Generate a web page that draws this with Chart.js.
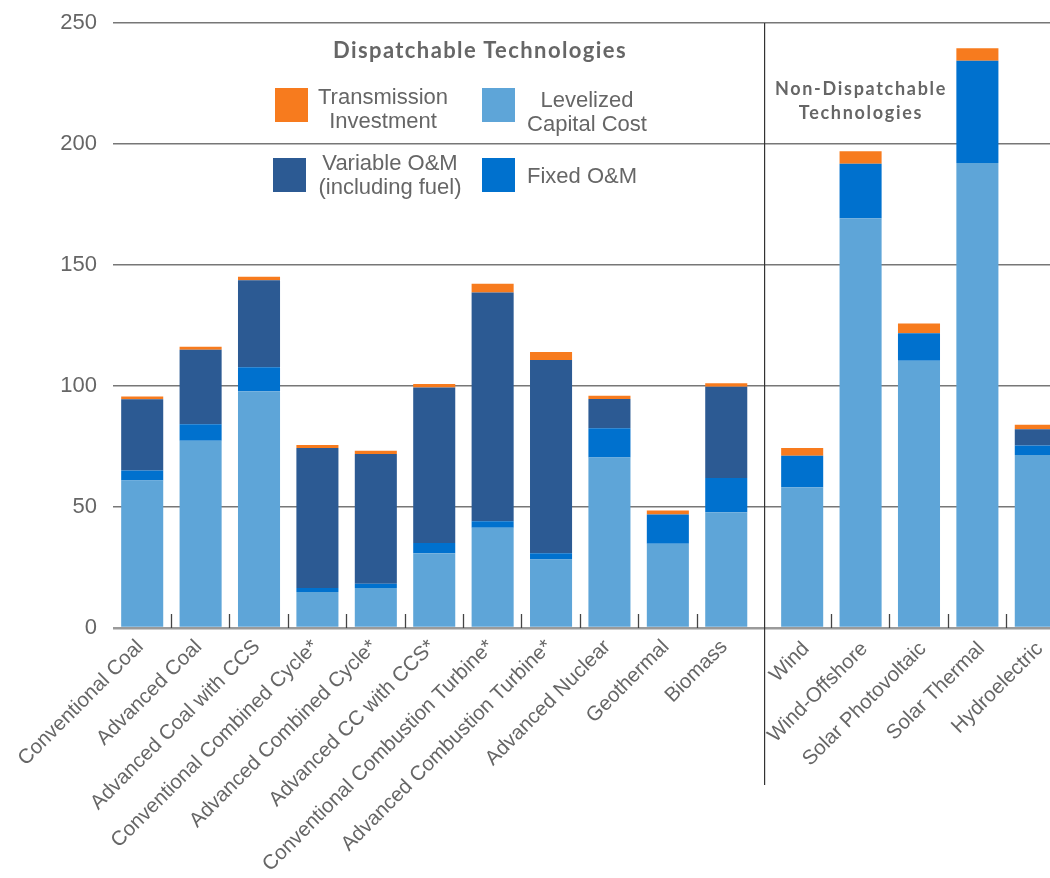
<!DOCTYPE html>
<html>
<head>
<meta charset="utf-8">
<script src="https://cdn.jsdelivr.net/npm/chart.js@4.4.1/dist/chart.umd.min.js"></script>
<style>
html, body { margin: 0; padding: 0; background: #fff; width: 1050px; height: 878px; overflow: hidden; }
#wrap { position: relative; width: 1070px; height: 878px; }
#c { position: absolute; left: 0; top: 0; }
.lbl { position: absolute; font-family: "Liberation Sans", Arial, sans-serif; color: #666; font-size: 22px; line-height: 24px; text-align: center; white-space: nowrap; }
.ttl { position: absolute; font-family: Lato, "Open Sans", sans-serif; font-weight: 700; color: #666; text-align: center; white-space: nowrap; }
.sw { position: absolute; width: 33px; height: 34px; }
</style>
</head>
<body>
<div id="wrap">
  <canvas id="c" width="1070" height="878"></canvas>
  <div class="ttl" style="left:320px; top:36px; width:320px; font-size:22px; letter-spacing:1.4px;">Dispatchable Technologies</div>
  <div class="sw" style="left:275px; top:88px; background:#F77B1E;"></div>
  <div class="lbl" style="left:313px; top:85px; width:140px;">Transmission<br>Investment</div>
  <div class="sw" style="left:482px; top:88px; background:#5EA5D8;"></div>
  <div class="lbl" style="left:522px; top:88px; width:130px;">Levelized<br>Capital Cost</div>
  <div class="sw" style="left:273px; top:158px; background:#2C5A93;"></div>
  <div class="lbl" style="left:310px; top:151px; width:160px;">Variable O&amp;M<br>(including fuel)</div>
  <div class="sw" style="left:482px; top:158px; background:#0071CE;"></div>
  <div class="lbl" style="left:527px; top:164px; text-align:left;">Fixed O&amp;M</div>
  <div class="ttl" style="left:761px; top:76px; width:200px; font-size:18px; line-height:24px; letter-spacing:1.7px;">Non-Dispatchable<br>Technologies</div>
</div>
<script>
// ---- data ----
const dispatchableCategories = [
  "Conventional Coal", "Advanced Coal", "Advanced Coal with CCS",
  "Conventional Combined Cycle*", "Advanced Combined Cycle*", "Advanced CC with CCS*",
  "Conventional Combustion Turbine*", "Advanced Combustion Turbine*",
  "Advanced Nuclear", "Geothermal", "Biomass"
];
const nonDispatchableCategories = ["Wind", "Wind-Offshore", "Solar Photovoltaic", "Solar Thermal", "Hydroelectric"];

const seriesNames = ["Levelized Capital Cost", "Fixed O&M", "Variable O&M (including fuel)", "Transmission Investment"];

const capitalDispatchable      = [61.0, 77.4, 97.8, 14.9, 16.5, 30.9, 41.4, 28.3, 70.5, 34.8, 47.8];
const fixedDispatchable        = [ 4.1,  6.8,  9.9,  1.6,  1.8,  4.2,  2.7,  2.6, 12.0, 12.1, 14.2];
const variableDispatchable     = [29.4, 30.8, 36.0, 57.9, 53.6, 64.3, 94.5, 79.8, 12.1,  0.0, 37.7];
const transmissionDispatchable = [ 1.2,  1.2,  1.4,  1.2,  1.3,  1.4,  3.7,  3.4,  1.4,  1.7,  1.4];

const capitalNonDispatchable      = [58.2, 169.3, 110.4, 192.2, 71.5];
const fixedNonDispatchable        = [13.0,  22.5,  11.4,  42.2,  3.9];
const variableNonDispatchable     = [ 0.0,   0.0,   0.0,   0.0,  6.7];
const transmissionNonDispatchable = [ 3.2,   5.2,   4.0,   5.2,  1.9];

const yMin = 0, yMax = 250, yStep = 50;

// ---- styles ----
const colors = ["#5EA5D8", "#0071CE", "#2C5A93", "#F77B1E"];
const FONT = "'Liberation Sans', Arial, sans-serif";
const TXT = "#666";

function makeSets(arrays, axisId) {
  return arrays.map((arr, i) => ({
    label: seriesNames[i],
    data: arr,
    xAxisID: axisId,
    grouped: false,
    backgroundColor: colors[i],
    borderWidth: 0,
    barPercentage: 0.72,
    categoryPercentage: 1.0
  }));
}

const datasets = [
  ...makeSets([capitalDispatchable, fixedDispatchable, variableDispatchable, transmissionDispatchable], "xd"),
  ...makeSets([capitalNonDispatchable, fixedNonDispatchable, variableNonDispatchable, transmissionNonDispatchable], "xn")
];

function betweenTickColor(n) {
  return ctx => (ctx.type === 'tick' && ctx.index > 0 && ctx.index < n) ? '#444' : 'rgba(0,0,0,0)';
}

function fixX(s) { s.height = 250; s.paddingLeft = 0; s.paddingRight = 0; }

function catAxis(labels, weight, shift, pad) {
  return {
    type: 'category',
    labels: labels,
    position: 'bottom',
    stack: 'x',
    stackWeight: weight,
    stacked: true,
    offset: true,
    border: { display: false },
    grid: {
      offset: true,
      drawOnChartArea: false,
      drawTicks: true,
      tickLength: -14,
      tickWidth: 1.3,
      tickColor: betweenTickColor(labels.length)
    },
    ticks: {
      autoSkip: false,
      minRotation: 45,
      maxRotation: 45,
      padding: pad,
      labelOffset: shift,
      color: TXT,
      font: { family: FONT, size: 20.5 }
    },
    afterFit: fixX
  };
}

new Chart(document.getElementById('c'), {
  type: 'bar',
  data: { datasets },
  options: {
    responsive: false,
    animation: false,
    layout: { padding: { top: 23, right: 5, left: 0, bottom: 0 } },
    plugins: { legend: { display: false }, tooltip: { enabled: false } },
    scales: {
      y: {
        stacked: true,
        min: yMin, max: yMax,
        border: { display: false },
        grid: {
          drawTicks: false,
          color: ctx => ctx.tick && ctx.tick.value === 0 ? '#9a9a9a' : '#777',
          lineWidth: ctx => ctx.tick && ctx.tick.value === 0 ? 2.5 : 1.5
        },
        ticks: { stepSize: yStep, padding: 16, color: TXT, font: { family: FONT, size: 22 } },
        afterFit(s) { s.width = 113; s.paddingTop = 0; s.paddingBottom = 0; }
      },
      xd: catAxis(dispatchableCategories, 11, -2, 21),
      xgap: {
        type: 'category',
        labels: [''],
        position: 'bottom',
        stack: 'x',
        stackWeight: 0.3,
        offset: true,
        border: { display: false },
        grid: { offset: false, drawOnChartArea: true, color: '#333', lineWidth: 1.2, tickLength: 157 },
        ticks: { display: true },
        afterFit: fixX
      },
      xn: catAxis(nonDispatchableCategories, 5, 4, 23)
    }
  }
});
</script>
</body>
</html>
